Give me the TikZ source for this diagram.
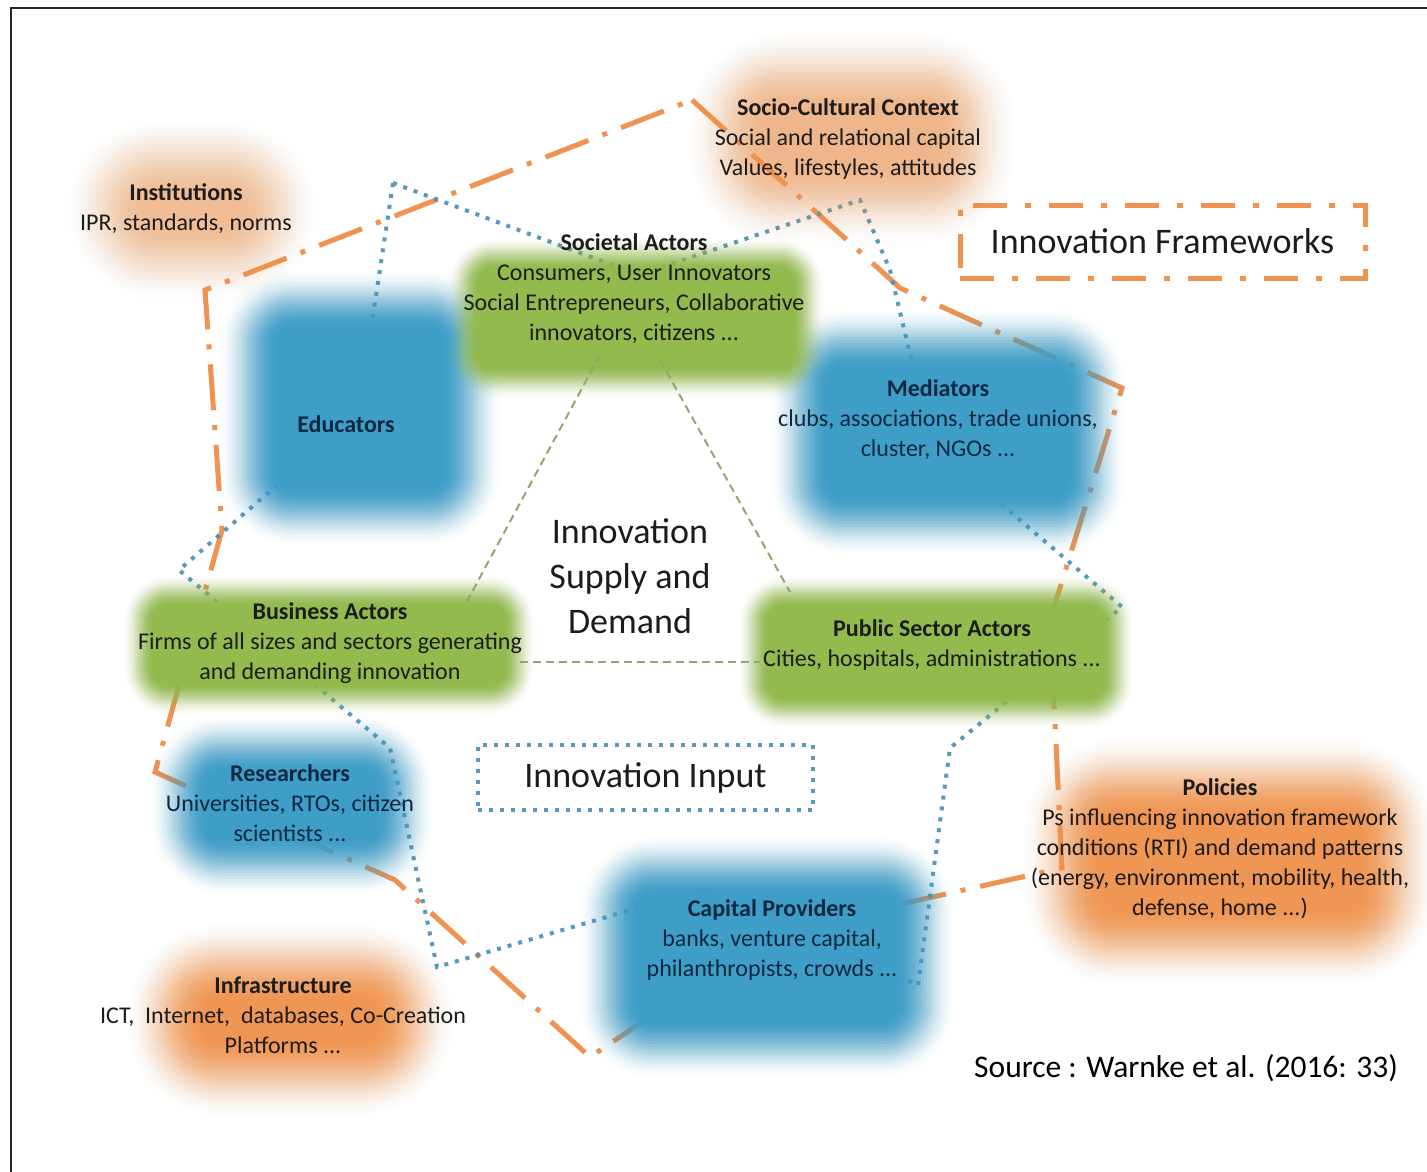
\documentclass[tikz,border=0pt]{standalone}
\usepackage{fontspec}
\setmainfont{Carlito}
\definecolor{frameorange}{RGB}{237,128,52}
\definecolor{inputblue}{RGB}{72,142,182}
\definecolor{blobblue}{RGB}{62,158,200}
\definecolor{blobgreen}{RGB}{146,186,76}
\definecolor{bloborange}{RGB}{240,148,78}
\definecolor{tri}{RGB}{150,165,112}
\definecolor{ink}{RGB}{28,28,28}
\definecolor{navy}{RGB}{14,40,64}

% soft-edged rounded block
% #1 centre x, #2 centre y, #3 half width, #4 half height (half-strength contour),
% #5 colour, #6 width of the soft edge, #7 peak opacity
\newcommand\blob[7]{%
  \foreach \k in {1,...,22}{%
    \pgfmathsetmacro\ta{(\k-1)/22}%
    \pgfmathsetmacro\tb{\k/22}%
    \pgfmathsetmacro\ca{#7*(3*\ta*\ta-2*\ta*\ta*\ta)}%
    \pgfmathsetmacro\cb{#7*(3*\tb*\tb-2*\tb*\tb*\tb)}%
    \pgfmathsetmacro\al{(\cb-\ca)/(1-\ca)}%
    \pgfmathsetmacro\ext{#6*(0.5-\ta)}%
    \pgfmathsetmacro\rad{max(#6*0.5+12+\ext,2)}%
    \fill[#5, fill opacity=\al, rounded corners=\rad pt]
      ({#1-#3-\ext},{#2-#4-\ext}) rectangle ({#1+#3+\ext},{#2+#4+\ext});
  }%
}

\begin{document}
\begin{tikzpicture}[x=1pt,y=-1pt,
  small/.style={font=\fontsize{24}{30}\selectfont, align=center, text=ink, inner sep=0pt},
  smallblue/.style={small, text=navy},
  large/.style={font=\fontsize{36}{45}\selectfont, align=center, text=ink},
  framework/.style={draw=frameorange, line width=5pt, line cap=butt,
    dash pattern=on 46pt off 15pt on 5pt off 15pt, draw opacity=0.85},
  inputline/.style={draw=inputblue, line width=4pt, dash pattern=on 4pt off 7pt, draw opacity=0.9},
  triline/.style={draw=tri, line width=2pt, dash pattern=on 8pt off 5pt},
]
\useasboundingbox (0,0) rectangle (1427,1171);
\clip (0,0) rectangle (1427,1171);
\fill[white] (0,0) rectangle (1427,1171);

% framework boundary
\draw[framework] (692,100) -- (900,288) -- (1122,388) -- (1050,620) -- (1062,868)
  -- (776,932) -- (590,1057) -- (395,880) -- (155,772) -- (222,530) -- (205,290) -- cycle;

% innovation input boundary
\draw[inputline] (393,183) -- (639,275) -- (860,200) -- (890,270) -- (915,375) -- (920,435)
  -- (1122,607) -- (950,748) -- (918,985) -- (705,888) -- (437,967) -- (390,748)
  -- (179,570) -- (358,415) -- cycle;

% input actors
\blob{360}{408}{110}{107}{blobblue}{62}{1}
\blob{948}{432}{147}{92}{blobblue}{62}{1}
\blob{292}{805}{112}{60}{blobblue}{60}{1}
\blob{767}{957}{157}{90}{blobblue}{62}{1}

% supply and demand actors
\blob{636}{318}{171}{63}{blobgreen}{34}{1}
\blob{329}{645}{189}{53}{blobgreen}{34}{1}
\blob{936}{652}{181}{59}{blobgreen}{34}{1}

% framework conditions
\blob{192}{210}{86}{52}{bloborange}{80}{0.55}
\blob{852}{138}{124}{66}{bloborange}{80}{0.62}
\blob{290}{1020}{124}{57}{bloborange}{80}{0.95}
\blob{1230}{862}{167}{84}{bloborange}{80}{0.95}

% links between the supply and demand actors
\coordinate (sa-l) at (600,355);
\coordinate (sa-r) at (660,360);
\coordinate (ba-t) at (465,605);
\coordinate (ba-r) at (520,662);
\coordinate (pa-t) at (790,592);
\coordinate (pa-l) at (760,662);
\draw[triline] (sa-l) -- (ba-t);
\draw[triline] (sa-r) -- (pa-t);
\draw[triline] (ba-r) -- (pa-l);

% labels
\node[small] (inst) at (186,209) {\textbf{Institutions}\\IPR, standards, norms};
\node[small] (socio) at (848,139) {\textbf{Socio-Cultural Context}\\Social and relational capital\\Values, lifestyles, attitudes};
\node[small] (soc) at (634,289) {\textbf{Societal Actors}\\Consumers, User Innovators\\Social Entrepreneurs, Collaborative\\innovators, citizens ...};
\node[smallblue] (edu) at (346,424) {\textbf{Educators}};
\node[smallblue] (med) at (938,420) {\textbf{Mediators}\\clubs, associations, trade unions,\\cluster, NGOs ...};
\node[large] (isd) at (630,576) {Innovation\\Supply and\\Demand};
\node[small] (bus) at (330,643) {\textbf{Business Actors}\\Firms of all sizes and sectors generating\\and demanding innovation};
\node[small] (pub) at (932,645) {\textbf{Public Sector Actors}\\Cities, hospitals, administrations ...};
\node[smallblue] (res) at (290,803) {\textbf{Researchers}\\Universities, RTOs, citizen\\scientists ...};
\node[small] (pol) at (1220,849) {\textbf{Policies}\\Ps influencing innovation framework\\conditions (RTI) and demand patterns\\(energy, environment, mobility, health,\\defense, home ...)};
\node[smallblue] (cap) at (772,940) {\textbf{Capital Providers}\\banks, venture capital,\\philanthropists, crowds ...};
\node[small] (infra) at (283,1015) {\textbf{Infrastructure}\\ICT,\ \ Internet,\ \ databases, Co-Creation\\Platforms ...};

% legend boxes
\node[large, draw=frameorange, line width=5pt, dash pattern=on 34pt off 18pt on 6pt off 18pt,
  draw opacity=0.85, minimum width=405pt, minimum height=73pt, inner sep=0pt] (fw) at (1162.5,241.5) {Innovation Frameworks};
\node[large, inputline, minimum width=335pt, minimum height=65pt, inner sep=0pt] (inp) at (645.5,777.5) {Innovation Input};

\node[font=\fontsize{31.5}{38}\selectfont, text=black, inner sep=0pt] (src) at (1186,1068) {Source : Warnke et al. (2016: 33)};

% outer frame
\draw[line width=2.5pt, black!85] (11,8) rectangle (1460,1200);
\end{tikzpicture}
\end{document}
